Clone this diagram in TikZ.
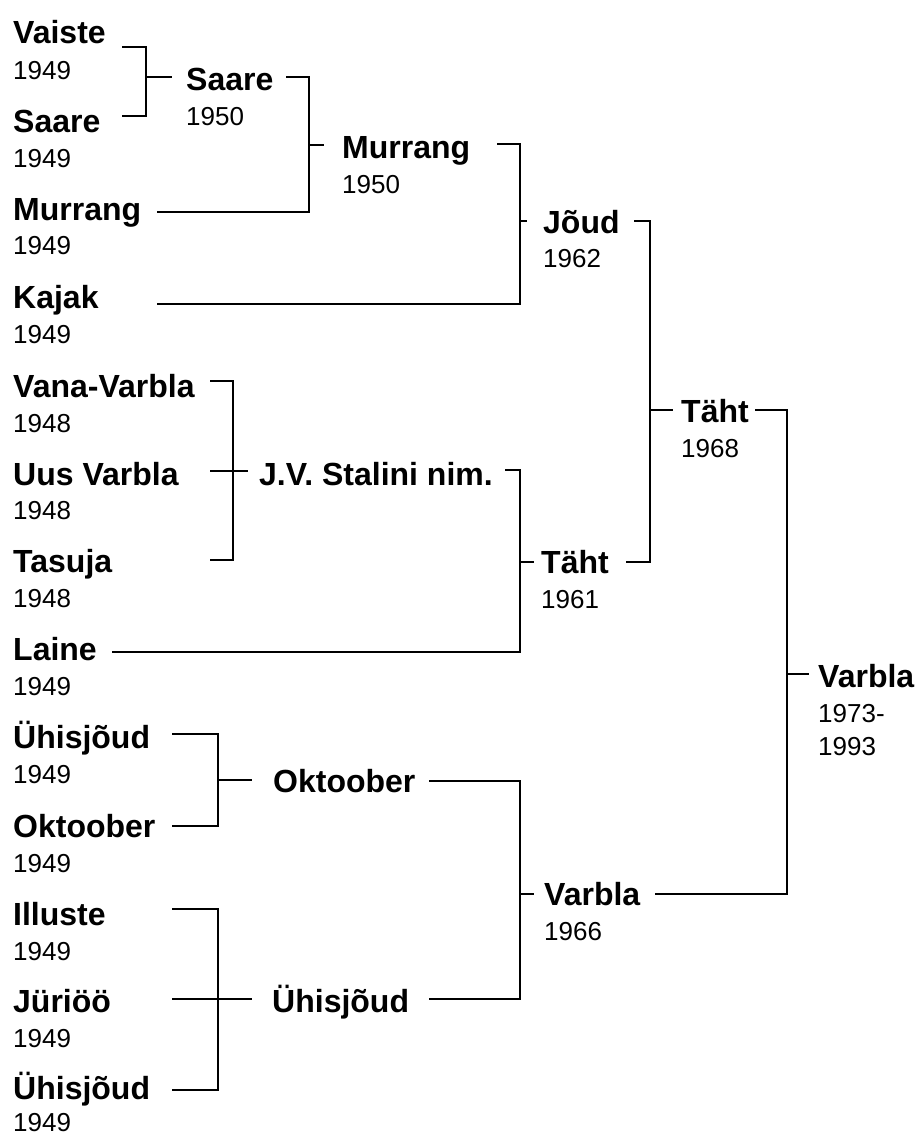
\documentclass[tikz,border=0pt]{standalone}
\usepackage{fontspec}
\setmainfont{Liberation Sans}
\usepackage{tikz}
\usetikzlibrary{positioning}
\tikzstyle{team}=[anchor=base west, inner sep=0pt, font=\fontsize{32}{38}\selectfont\bfseries]
\tikzstyle{yr}=[anchor=base west, inner sep=0pt, font=\fontsize{26}{31}\selectfont]
\tikzstyle{link}=[line width=2.7pt, line cap=rect, line join=miter]
\newcommand{\team}{\node[team]}
\newcommand{\yr}{\node[yr]}

\begin{document}
\begin{tikzpicture}[x=1pt, y=-1pt]
            \useasboundingbox (0,0) rectangle (917,1136);
            % first column
            \team (vaiste) at (13,43) {Vaiste};
            \yr (vaiste-y) at (13,79) {1949};
            \team (saare49) at (13,132) {Saare};
            \yr (saare49-y) at (13,167) {1949};
            \team (murrang49) at (13,220) {Murrang};
            \yr (murrang49-y) at (13,254) {1949};
            \team (kajak) at (13,308) {Kajak};
            \yr (kajak-y) at (13,343) {1949};
            \team (vana) at (13,397) {Vana-Varbla};
            \yr (vana-y) at (13,432) {1948};
            \team (uus) at (13,485) {Uus Varbla};
            \yr (uus-y) at (13,519) {1948};
            \team (tasuja) at (13,572) {Tasuja};
            \yr (tasuja-y) at (13,607) {1948};
            \team (laine) at (13,660) {Laine};
            \yr (laine-y) at (13,695) {1949};
            \team (uhisa) at (13,748) {Ühisjõud};
            \yr (uhisa-y) at (13,783) {1949};
            \team (okt49) at (13,837) {Oktoober};
            \yr (okt49-y) at (13,872) {1949};
            \team (illuste) at (13,925) {Illuste};
            \yr (illuste-y) at (13,960) {1949};
            \team (juri) at (13,1012) {Jüriöö};
            \yr (juri-y) at (13,1047) {1949};
            \team (uhisb) at (13,1099) {Ühisjõud};
            \yr (uhisb-y) at (13,1131) {1949};
            % merged
            \team (saare50) at (186,90) {Saare};
            \yr (saare50-y) at (186,125) {1950};
            \team (murrang50) at (342,158) {Murrang};
            \yr (murrang50-y) at (342,193) {1950};
            \team (joud) at (543,233) {Jõud};
            \yr (joud-y) at (543,267) {1962};
            \team (stalini) at (259,485) {J.V. Stalini nim.};
            \team (taht61) at (541,573) {Täht};
            \yr (taht61-y) at (541,608) {1961};
            \team (okt) at (273,792) {Oktoober};
            \team (uhis) at (272,1012) {Ühisjõud};
            \team (varbla66) at (544,905) {Varbla};
            \yr (varbla66-y) at (544,940) {1966};
            \team (taht68) at (681,422) {Täht};
            \yr (taht68-y) at (681,457) {1968};
            \team (varbla) at (818,687) {Varbla};
            \yr (varbla-y1) at (818,722) {1973-};
            \yr (varbla-y2) at (818,755) {1993};
            % line ends
            \coordinate (vaiste-e) at (123,47);
            \coordinate (saare49-e) at (123,116);
            \coordinate (j1) at (146,77);
            \coordinate (saare50-w) at (171,77);
            \coordinate (saare50-e) at (287,77);
            \coordinate (murrang49-e) at (158,212);
            \coordinate (j2) at (309,145);
            \coordinate (murrang50-w) at (323,145);
            \coordinate (murrang50-e) at (498,144);
            \coordinate (kajak-e) at (158,304);
            \coordinate (j3) at (520,221);
            \coordinate (joud-w) at (526,221);
            \coordinate (vana-e) at (211,381);
            \coordinate (uus-e) at (211,471);
            \coordinate (tasuja-e) at (211,560);
            \coordinate (j4) at (233,471);
            \coordinate (stalini-w) at (247,471);
            \coordinate (stalini-e) at (506,470);
            \coordinate (laine-e) at (113,652);
            \coordinate (j5) at (520,562);
            \coordinate (taht61-w) at (533,562);
            \coordinate (joud-e) at (635,221);
            \coordinate (taht61-e) at (627,562);
            \coordinate (j6) at (650,410);
            \coordinate (taht68-w) at (672,410);
            \coordinate (uhisa-e) at (173,734);
            \coordinate (okt49-e) at (173,826);
            \coordinate (j7) at (218,780);
            \coordinate (okt-w) at (251,780);
            \coordinate (illuste-e) at (173,909);
            \coordinate (juri-e) at (173,999);
            \coordinate (uhisb-e) at (173,1090);
            \coordinate (j8) at (218,999);
            \coordinate (uhis-w) at (251,999);
            \coordinate (okt-e) at (430,781);
            \coordinate (uhis-e) at (430,999);
            \coordinate (j9) at (520,894);
            \coordinate (varbla66-w) at (533,894);
            \coordinate (taht68-e) at (756,410);
            \coordinate (varbla66-e) at (656,894);
            \coordinate (j10) at (787,674);
            \coordinate (varbla-w) at (808,674);
            % brackets
            \draw[link] (vaiste-e) -| (j1) |- (saare49-e);
            \draw[link] (j1) -- (saare50-w);
            \draw[link] (saare50-e) -| (j2) |- (murrang49-e);
            \draw[link] (j2) -- (murrang50-w);
            \draw[link] (murrang50-e) -| (j3) |- (kajak-e);
            \draw[link] (j3) -- (joud-w);
            \draw[link] (vana-e) -| (j4) |- (tasuja-e);
            \draw[link] (uus-e) -- (stalini-w);
            \draw[link] (stalini-e) -| (j5) |- (laine-e);
            \draw[link] (j5) -- (taht61-w);
            \draw[link] (joud-e) -| (j6) |- (taht61-e);
            \draw[link] (j6) -- (taht68-w);
            \draw[link] (uhisa-e) -| (j7) |- (okt49-e);
            \draw[link] (j7) -- (okt-w);
            \draw[link] (illuste-e) -| (j8) |- (uhisb-e);
            \draw[link] (juri-e) -- (uhis-w);
            \draw[link] (okt-e) -| (j9) |- (uhis-e);
            \draw[link] (j9) -- (varbla66-w);
            \draw[link] (taht68-e) -| (j10) |- (varbla66-e);
            \draw[link] (j10) -- (varbla-w);
        \end{tikzpicture}
\end{document}
